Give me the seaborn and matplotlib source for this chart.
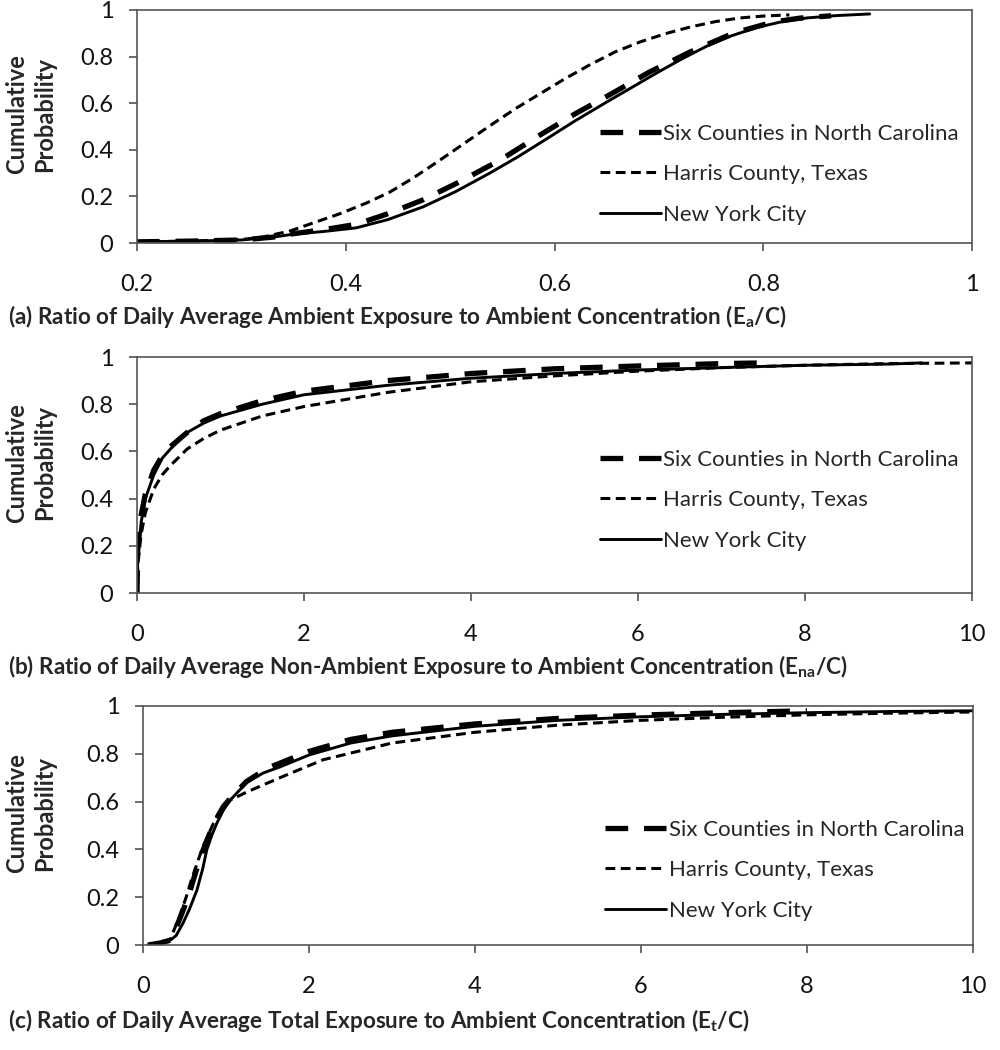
import numpy as np
import seaborn as sns
import pandas as pd
from matplotlib import pyplot as plt
from matplotlib.ticker import FuncFormatter

# ---- data ----
series_names = ['Six Counties in North Carolina', 'Harris County, Texas', 'New York City']

# (a) Ea/C
a_nc_x = [0.2, 0.25, 0.3, 0.33, 0.35, 0.38, 0.41, 0.44, 0.474, 0.507, 0.548, 0.583, 0.62,
          0.656, 0.691, 0.73, 0.771, 0.809, 0.835, 0.865]
a_nc_y = [0.005, 0.008, 0.013, 0.025, 0.04, 0.058, 0.08, 0.125, 0.185, 0.258, 0.356, 0.455, 0.555,
          0.644, 0.734, 0.82, 0.90, 0.948, 0.965, 0.975]
a_hc_x = [0.2, 0.25, 0.3, 0.32, 0.347, 0.37, 0.394, 0.42, 0.442, 0.465, 0.49, 0.515, 0.538, 0.562,
          0.586, 0.61, 0.634, 0.658, 0.682, 0.706, 0.73, 0.754, 0.778, 0.8, 0.825]
a_hc_y = [0.005, 0.008, 0.015, 0.025, 0.052, 0.088, 0.125, 0.172, 0.218, 0.28, 0.355, 0.432, 0.503, 0.575,
          0.64, 0.705, 0.765, 0.82, 0.863, 0.898, 0.927, 0.95, 0.966, 0.974, 0.979]
a_ny_x = [0.2, 0.25, 0.3, 0.33, 0.35, 0.38, 0.41, 0.44, 0.474, 0.505, 0.538, 0.565, 0.59, 0.62,
          0.65, 0.675, 0.698, 0.722, 0.746, 0.77, 0.794, 0.818, 0.842, 0.87, 0.902]
a_ny_y = [0.005, 0.008, 0.013, 0.025, 0.038, 0.05, 0.065, 0.1, 0.155, 0.22, 0.30, 0.37, 0.44, 0.525,
          0.605, 0.67, 0.73, 0.79, 0.845, 0.89, 0.925, 0.95, 0.966, 0.976, 0.983]

# (b) Ena/C
b_nc_x = [0, 0.01, 0.05, 0.1, 0.2, 0.3, 0.4, 0.6, 0.8, 1.0, 1.5, 2, 3, 4, 5, 6, 7, 7.5]
b_nc_y = [0, 0.2, 0.33, 0.42, 0.52, 0.58, 0.62, 0.68, 0.73, 0.76, 0.815, 0.855, 0.9, 0.93, 0.95, 0.962, 0.972, 0.975]
b_hc_x = [0, 0.01, 0.05, 0.1, 0.2, 0.3, 0.4, 0.6, 0.8, 1.0, 1.5, 2, 3, 4, 5, 6, 7, 8, 9, 10]
b_hc_y = [0, 0.12, 0.25, 0.34, 0.44, 0.5, 0.54, 0.61, 0.655, 0.69, 0.75, 0.79, 0.85, 0.895, 0.92, 0.94, 0.955,
          0.965, 0.972, 0.975]
b_ny_x = [0, 0.01, 0.05, 0.1, 0.2, 0.3, 0.4, 0.6, 0.8, 1.0, 1.5, 2, 3, 4, 5, 6, 7, 8, 9, 9.4]
b_ny_y = [0, 0.15, 0.3, 0.4, 0.5, 0.57, 0.61, 0.68, 0.72, 0.75, 0.8, 0.84, 0.88, 0.91, 0.93, 0.945, 0.955,
          0.965, 0.97, 0.975]

# (c) Et/C
c_nc_x = [0.06, 0.2, 0.33, 0.42, 0.5, 0.57, 0.64, 0.71, 0.79, 0.87, 0.97, 1.08, 1.25, 1.5, 2, 2.5, 3, 4, 5, 6, 7, 8]
c_nc_y = [0.0, 0.008, 0.02, 0.09, 0.16, 0.23, 0.31, 0.385, 0.455, 0.52, 0.58, 0.625, 0.685, 0.74, 0.81, 0.86,
          0.89, 0.925, 0.948, 0.962, 0.972, 0.98]
c_hc_x = [0.06, 0.2, 0.33, 0.44, 0.52, 0.59, 0.72, 0.85, 0.95, 1.05, 1.25, 1.65, 2.17, 3, 4, 5, 6, 7, 8, 9, 10]
c_hc_y = [0.0, 0.008, 0.025, 0.12, 0.2, 0.28, 0.41, 0.51, 0.57, 0.606, 0.64, 0.70, 0.775, 0.845, 0.89, 0.92,
          0.94, 0.953, 0.963, 0.97, 0.975]
c_ny_x = [0.06, 0.2, 0.33, 0.4, 0.48, 0.56, 0.65, 0.72, 0.77, 0.83, 0.89, 0.97, 1.05, 1.25, 1.45, 1.65, 2.0, 2.5,
          3, 4, 5, 6, 7, 8, 9, 10]
c_ny_y = [0.0, 0.008, 0.02, 0.04, 0.09, 0.15, 0.23, 0.32, 0.40, 0.46, 0.51, 0.565, 0.606, 0.68, 0.72, 0.745, 0.795,
          0.845, 0.875, 0.915, 0.94, 0.955, 0.965, 0.972, 0.977, 0.98]

titles = [
    r'(a) Ratio of Daily Average Ambient Exposure to Ambient Concentration (E$_\mathbf{a}$/C)',
    r'(b) Ratio of Daily Average Non-Ambient Exposure to Ambient Concentration (E$_\mathbf{na}$/C)',
    r'(c) Ratio of Daily Average Total Exposure to Ambient Concentration (E$_\mathbf{t}$/C)',
]

sns.set_style('ticks')
plt.rcParams['font.family'] = ['Lato', 'DejaVu Sans']
plt.rcParams['mathtext.fontset'] = 'custom'
plt.rcParams['mathtext.rm'] = 'Lato'
plt.rcParams['mathtext.bf'] = 'Lato:bold'

styles = {
    series_names[0]: dict(lw=3.8, ls=(0, (4.3, 3.0))),
    series_names[1]: dict(lw=2.2, ls=(0, (3.2, 1.8))),
    series_names[2]: dict(lw=2.1, ls='-'),
}

fig = plt.figure(figsize=(10, 10.5), dpi=100)

# axes boxes in pixel terms (left, top, right, bottom)
boxes = [(137, 10, 972, 243), (137, 357, 972, 593), (143, 706, 973, 945)]
panels = [
    [(a_nc_x, a_nc_y), (a_hc_x, a_hc_y), (a_ny_x, a_ny_y)],
    [(b_nc_x, b_nc_y), (b_hc_x, b_hc_y), (b_ny_x, b_ny_y)],
    [(c_nc_x, c_nc_y), (c_hc_x, c_hc_y), (c_ny_x, c_ny_y)],
]
xlims = [(0.2, 1.0), (0, 10), (0, 10)]
xticks = [np.arange(0.2, 1.01, 0.2), np.arange(0, 10.1, 2), np.arange(0, 10.1, 2)]
title_y = [317, 667, 1020]
legend_anchor = [(0.554, 0.512), (0.554, 0.607), (0.557, 0.524)]

W, H = 1000, 1050
fmt = FuncFormatter(lambda v, p: '%g' % round(v, 2))

for i, (l, t, r, b) in enumerate(boxes):
    ax = fig.add_axes([l / W, 1 - b / H, (r - l) / W, (b - t) / H])
    for name, (xs, ys) in zip(series_names, panels[i]):
        df = pd.DataFrame({'x': xs, 'y': ys})
        sns.lineplot(data=df, x='x', y='y', ax=ax, color='black',
                     linewidth=styles[name]['lw'], linestyle=styles[name]['ls'],
                     label=name, sort=False)
    ax.set_xlim(*xlims[i])
    ax.set_ylim(0, 1)
    ax.set_xticks(xticks[i])
    ax.set_yticks(np.arange(0, 1.01, 0.2))
    ax.xaxis.set_major_formatter(fmt)
    ax.yaxis.set_major_formatter(fmt)
    ax.set_xlabel('')
    ax.set_ylabel('')
    for s in ax.spines.values():
        s.set_color('#555555')
        s.set_linewidth(1.2)
    ax.tick_params(axis='both', direction='out', length=6, width=1.1,
                   color='#444444', labelsize=17, labelcolor='#111111')
    ax.tick_params(axis='x', pad=16)
    ax.tick_params(axis='y', pad=11)
    ax.legend(loc='upper left', bbox_to_anchor=legend_anchor[i], frameon=False,
              fontsize=16, handlelength=2.75, handletextpad=0.12,
              labelspacing=0.92, borderpad=0, borderaxespad=0)
    # y label (two lines)
    cy = (t + b) / 2 - 12
    fig.text(31 / W, 1 - cy / H, 'Cumulative\nProbability', rotation=90,
             ha='center', va='center', fontsize=17, fontweight='bold',
             linespacing=1.25)
    fig.text(8 / W, 1 - title_y[i] / H, titles[i], ha='left', va='center',
             fontsize=16.2, fontweight='bold')

fig.savefig('out.png', dpi=100)
